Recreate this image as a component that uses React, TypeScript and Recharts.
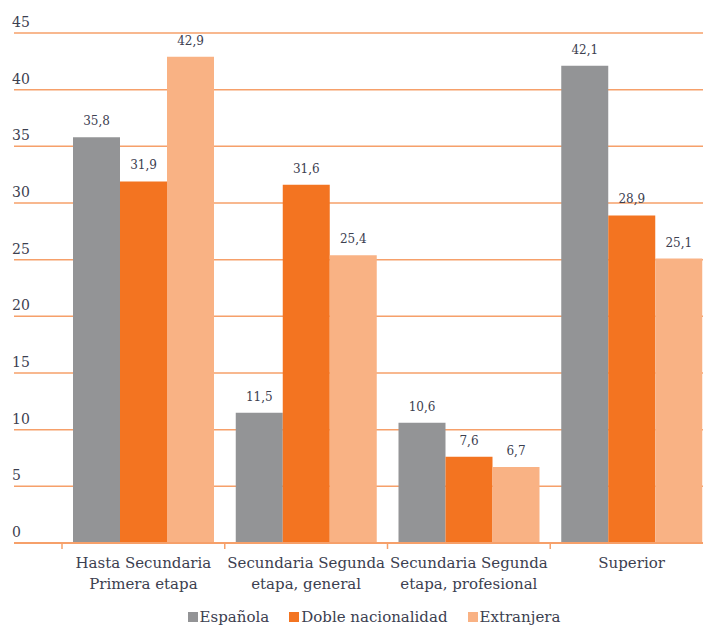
import { BarChart, Bar, XAxis, YAxis, CartesianGrid, Legend, LabelList } from "recharts";

const categories = ["Hasta Secundaria|Primera etapa", "Secundaria Segunda|etapa, general", "Secundaria Segunda|etapa, profesional", "Superior"];
const espanola = [35.8, 11.5, 10.6, 42.1];
const doble = [31.9, 31.6, 7.6, 28.9];
const extranjera = [42.9, 25.4, 6.7, 25.1];
const yTicks = [0, 5, 10, 15, 20, 25, 30, 35, 40, 45];

const series = [
  { key: "espanola", name: "Española", color: "#939496" },
  { key: "doble", name: "Doble nacionalidad", color: "#F37421" },
  { key: "extranjera", name: "Extranjera", color: "#F9B284" },
];

const data = categories.map((c, i) => ({
  name: c,
  espanola: espanola[i],
  doble: doble[i],
  extranjera: extranjera[i],
}));

const FONT = "'DejaVu Serif', serif";
const TEXT = "#3c4050";
const LINE = "#F6A06A";

const YTick = (props: any) => {
  const { y, payload } = props;
  return (
    <text x={12} y={y - 6} fill={TEXT} fontSize={14} fontFamily={FONT} textAnchor="start">
      {payload.value}
    </text>
  );
};

const XTick = (props: any) => {
  const { x, y, payload } = props;
  const half = payload.offset ?? 81.4;
  const lines = String(payload.value).split("|");
  return (
    <g>
      <line x1={x - half} x2={x - half} y1={y} y2={y + 6} stroke={LINE} strokeWidth={1.5} />
      {lines.map((l, i) => (
        <text key={i} x={x} y={y + 25 + i * 21} fill={TEXT} fontSize={15} fontFamily={FONT} textAnchor="middle">
          {l}
        </text>
      ))}
    </g>
  );
};

const renderLegend = () => (
  <div style={{ display: "flex", justifyContent: "center", paddingLeft: 55, fontFamily: FONT, fontSize: 15, lineHeight: "20px", color: TEXT }}>
    {series.map((s) => (
      <span key={s.key} style={{ display: "inline-flex", alignItems: "baseline", marginRight: 20 }}>
        <span style={{ display: "inline-block", width: 10, height: 10, background: s.color, marginRight: 2 }} />
        {s.name}
      </span>
    ))}
  </div>
);

const fmt = (v: any) => String(v).replace(".", ",");

export default function App() {
  return (
    <div style={{ position: "fixed", top: 0, left: 0, width: 703, height: 626, overflow: "hidden", background: "#fff" }}>
      <BarChart
        width={713}
        height={626}
        data={data}
        margin={{ top: 33, right: 0, left: 0, bottom: 5 }}
        barCategoryGap={11}
        barGap={0}
      >
        <CartesianGrid vertical={false} stroke={LINE} strokeWidth={1.5} />
        <YAxis
          width={14}
          domain={[0, 45]}
          ticks={yTicks}
          axisLine={false}
          tickLine={false}
          tickSize={0}
          tickMargin={0}
          tick={<YTick />}
        />
        <XAxis
          dataKey="name"
          height={58}
          padding={{ left: 48, right: 0 }}
          axisLine={{ stroke: LINE, strokeWidth: 2 }}
          tickLine={false}
          tickSize={0}
          tickMargin={0}
          interval={0}
          tick={<XTick />}
        />
        <Legend
          verticalAlign="bottom"
          height={0}
          content={renderLegend}
          wrapperStyle={{ top: 607, bottom: "auto", left: 0, width: 713 }}
        />
        {series.map((s) => (
          <Bar key={s.key} dataKey={s.key} name={s.name} fill={s.color} isAnimationActive={false}>
            <LabelList dataKey={s.key} position="top" offset={12} formatter={fmt} fill={TEXT} fontSize={12} fontFamily={FONT} />
          </Bar>
        ))}
      </BarChart>
    </div>
  );
}
